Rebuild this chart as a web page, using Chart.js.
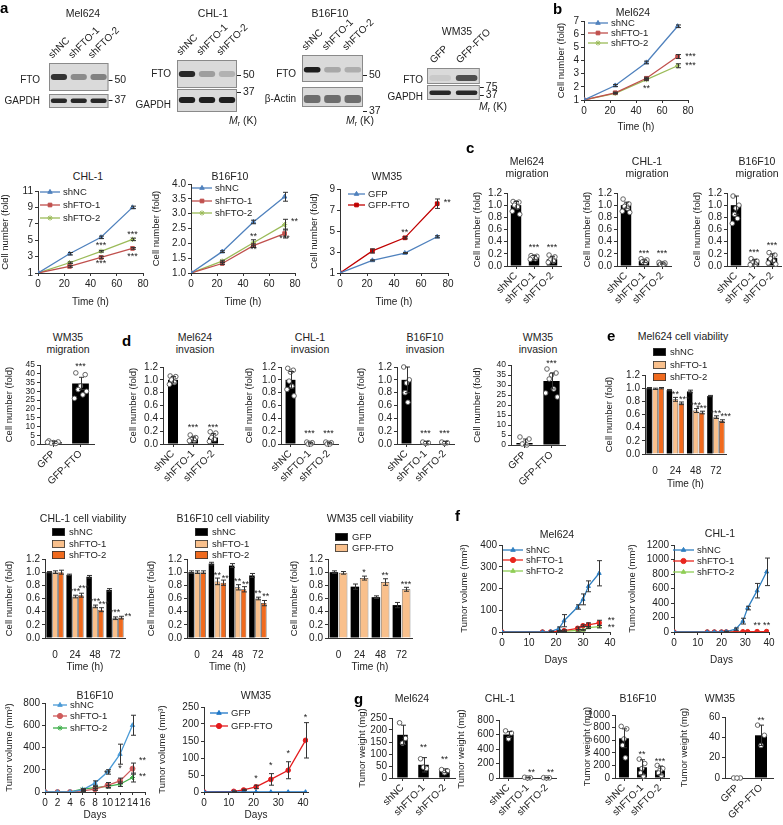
<!DOCTYPE html>
<html>
<head>
<meta charset="utf-8">
<title>FTO figure</title>
<script src="https://cdn.jsdelivr.net/npm/chart.js@4.4.1/dist/chart.umd.min.js"></script>
<style>
  body { margin: 0; background: #fff; }
  #fig { position: relative; width: 783px; height: 825px; overflow: hidden; font-family: "Liberation Sans", Arial, sans-serif; color: #222; }
  #fig canvas { position: absolute; }
  .t { position: absolute; transform: translate(-50%, -50%); font-size: 10.5px; line-height: 12px; text-align: center; white-space: nowrap; }
  .p { position: absolute; font-size: 15px; line-height: 15px; font-weight: bold; color: #000; }
  .t sub { font-size: 7px; vertical-align: -2px; }
</style>
</head>
<body>
<div id="fig"></div>
<script>
// ---------- lanes / categories
const shLanes = ['shNC', 'shFTO-1', 'shFTO-2'];
const gfpLanes = ['GFP', 'GFP-FTO'];
const hours = [0, 24, 48, 72];
const hourLabels = ['0', '24', '48', '72'];

// ---------- panel a: band darkness per lane (0 none .. 1 black)
const blotFtoMel624 = [0.85, 0.4, 0.45];
const blotGapdhMel624 = [0.9, 0.9, 0.9];
const blotFtoCHL1 = [0.9, 0.3, 0.2];
const blotGapdhCHL1 = [0.95, 0.95, 0.95];
const blotFtoB16 = [0.95, 0.25, 0.22];
const blotActinB16 = [0.55, 0.55, 0.55];
const blotFtoWM35 = [0.08, 0.7];
const blotGapdhWM35 = [0.9, 0.9];

// ---------- growth curves (fold)
const gMelNC = [1, 2.1, 3.85, 6.6], gMelNCe = [0, 0.08, 0.1, 0.1];
const gMelF1 = [1, 1.55, 2.65, 4.3], gMelF1e = [0, 0.05, 0.08, 0.15];
const gMelF2 = [1, 1.5, 2.55, 3.6], gMelF2e = [0, 0.05, 0.08, 0.15];
const gChlNC = [1, 3.35, 5.35, 9.0], gChlNCe = [0, 0.15, 0.15, 0.15];
const gChlF1 = [1, 1.8, 2.9, 4.0], gChlF1e = [0, 0.1, 0.15, 0.1];
const gChlF2 = [1, 2.25, 3.65, 5.1], gChlF2e = [0, 0.1, 0.1, 0.15];
const gB16NC = [1, 1.72, 2.72, 3.57], gB16NCe = [0, 0.03, 0.06, 0.15];
const gB16F1 = [1, 1.32, 1.92, 2.33], gB16F1e = [0, 0.03, 0.06, 0.15];
const gB16F2 = [1, 1.4, 2.02, 2.63], gB16F2e = [0, 0.03, 0.1, 0.18];
const gWmGFP = [1, 2.2, 2.9, 4.45], gWmGFPe = [0, 0.05, 0.05, 0.1];
const gWmFTO = [1, 3.1, 4.35, 7.6], gWmFTOe = [0, 0.2, 0.1, 0.45];

// ---------- migration
const migMel = [1.0, 0.14, 0.11], migMelE = [0.06, 0.03, 0.05];
const migMelPts = [[1.06, 1.05, 1.04, 1.0, 0.97, 0.9, 0.85], [0.17, 0.16, 0.15, 0.14, 0.12, 0.11], [0.18, 0.15, 0.12, 0.1, 0.08, 0.06]];
const migChl = [1.0, 0.08, 0.04], migChlE = [0.05, 0.02, 0.01];
const migChlPts = [[1.1, 1.02, 1.0, 0.98, 0.95, 0.9, 0.88], [0.12, 0.1, 0.08, 0.07, 0.06], [0.06, 0.05, 0.04, 0.03, 0.03]];
const migB16 = [1.0, 0.07, 0.13], migB16E = [0.15, 0.04, 0.07];
const migB16Pts = [[1.15, 1.0, 0.95, 0.85, 0.78, 0.7], [0.12, 0.08, 0.06, 0.05, 0.03, 0.02], [0.22, 0.18, 0.15, 0.12, 0.08, 0.05, 0.03]];
const migWm = [1.0, 34.5], migWmE = [0.6, 3.5];
const migWmPts = [[1.8, 1.2, 0.8, 0.5, 0.3, 1.0], [40.5, 39.5, 33, 31, 28, 26, 30]];

// ---------- invasion
const invMel = [1.0, 0.08, 0.1], invMelE = [0.05, 0.03, 0.06];
const invMelPts = [[1.06, 1.05, 1.03, 1.0, 0.96, 0.93], [0.14, 0.1, 0.09, 0.07, 0.06, 0.05], [0.19, 0.17, 0.13, 0.1, 0.07, 0.04]];
const invChl = [1.0, 0.01, 0.01], invChlE = [0.13, 0.01, 0.01];
const invChlPts = [[1.18, 1.15, 1.12, 0.98, 0.9, 0.85, 0.75], [0.03, 0.02, 0.01, 0.0, 0.0], [0.03, 0.02, 0.01, 0.0, 0.0]];
const invB16 = [1.0, 0.02, 0.02], invB16E = [0.2, 0.02, 0.02];
const invB16Pts = [[1.2, 1.0, 0.95, 0.8, 0.65], [0.03, 0.02, 0.01], [0.03, 0.02, 0.01]];
const invWm = [1.0, 32], invWmE = [2.0, 4.0];
const invWmPts = [[4, 3, 1, 0.5, 0], [38, 36, 35, 33, 28, 26, 24]];

// ---------- cell viability
const vMelNC = [1.0, 0.97, 0.95, 0.88], vMelNCe = [0.01, 0.01, 0.02, 0.01];
const vMelF1 = [0.99, 0.83, 0.66, 0.56], vMelF1e = [0.01, 0.03, 0.03, 0.02];
const vMelF2 = [1.0, 0.77, 0.63, 0.5], vMelF2e = [0.01, 0.02, 0.02, 0.02];
const vChlNC = [1.0, 0.96, 0.93, 0.73], vChlNCe = [0.01, 0.01, 0.02, 0.02];
const vChlF1 = [1.0, 0.63, 0.48, 0.3], vChlF1e = [0.02, 0.02, 0.02, 0.02];
const vChlF2 = [1.0, 0.65, 0.43, 0.31], vChlF2e = [0.03, 0.03, 0.03, 0.02];
const vB16NC = [1.0, 1.13, 1.1, 0.95], vB16NCe = [0.02, 0.02, 0.03, 0.03];
const vB16F1 = [1.0, 0.86, 0.77, 0.6], vB16F1e = [0.02, 0.05, 0.04, 0.02];
const vB16F2 = [1.0, 0.84, 0.74, 0.53], vB16F2e = [0.02, 0.04, 0.04, 0.04];
const vWmGFP = [1.0, 0.78, 0.62, 0.5], vWmGFPe = [0.02, 0.04, 0.02, 0.04];
const vWmFTO = [0.99, 0.91, 0.85, 0.74], vWmFTOe = [0.02, 0.03, 0.05, 0.03];

// ---------- tumour volume (mm3)
const dMel = [0, 15, 18, 21, 23, 28, 30, 32, 36];
const tMelNC = [0, 0, 2, 15, 52, 115, 150, 210, 270], tMelNCe = [0, 0, 2, 8, 28, 10, 25, 25, 58];
const tMelF1 = [0, 0, 0, 3, 6, 17, 29, 33, 42], tMelF1e = [0, 0, 0, 2, 4, 6, 4, 9, 12];
const tMelF2 = [0, 0, 0, 2, 3, 8, 9, 20, 25], tMelF2e = [0, 0, 0, 1, 2, 4, 3, 4, 6];
const dChl = [0, 14, 17, 20, 22, 26, 29, 31, 35, 39];
const tChlNC = [0, 0, 0, 0, 5, 40, 150, 330, 570, 830], tChlNCe = [0, 0, 0, 0, 5, 15, 40, 25, 100, 190];
const tChlF1 = [0, 0, 0, 0, 1, 2, 3, 4, 5, 6];
const tChlF2 = [0, 0, 0, 0, 0, 1, 2, 3, 3, 4];
const dB16 = [0, 2, 4, 6, 8, 10, 12, 14];
const tB16NC = [0, 0, 0, 20, 80, 180, 340, 600], tB16NCe = [0, 0, 0, 5, 20, 20, 90, 90];
const tB16F1 = [0, 0, 0, 10, 25, 60, 100, 210], tB16F1e = [0, 0, 0, 5, 10, 25, 25, 50];
const tB16F2 = [0, 0, 0, 25, 40, 50, 70, 130], tB16F2e = [0, 0, 0, 5, 10, 10, 20, 40];
const dWm = [0, 12, 16, 21, 27, 34, 41];
const tWmGFP = [0, 0, 0, 0, 0, 0, 0];
const tWmFTO = [0, 2, 6, 15, 37, 64, 152], tWmFTOe = [0, 1, 2, 5, 17, 25, 52];

// ---------- tumour weight (mg)
const wMel = [180, 55, 30], wMelE = [40, 30, 8];
const wMelPts = [[230, 165, 145], [80, 40, 45], [35, 30, 22]];
const wChl = [600, 5, 3], wChlE = [40, 5, 3];
const wChlPts = [[650, 620, 540], [10, 3, 0], [5, 2, 0]];
const wB16 = [630, 170, 120], wB16E = [150, 120, 70];
const wB16Pts = [[820, 780, 620, 520, 320], [300, 230, 150, 80, 30], [200, 150, 120, 80, 40]];
const wWm = [0, 42], wWmE = [0, 10];
const wWmPts = [[0, 0, 0], [52, 42, 32]];

const C = {
  blue: '#4f81bd', red: '#c0504d', green: '#9bbb59', dred: '#c00000',
  fblue: '#2f7fc1', fred: '#e8261e', fgreen: '#8fce55',
  bblue: '#4a9ad6', bred: '#cf5b5b', bgreen: '#3dae49',
  light: '#f9c08c', orange: '#f06a1e'
};
const FONT = '"Liberation Sans", Arial, sans-serif';
const JIT = [-0.28, 0.28, 0, -0.14, 0.14, -0.36, 0.36];

Chart.defaults.font.family = FONT;
Chart.defaults.font.size = 10;
Chart.defaults.color = '#222';
Chart.defaults.animation = false;
Chart.defaults.responsive = false;
Chart.defaults.events = [];
Chart.defaults.plugins.legend.display = false;
Chart.defaults.plugins.tooltip.enabled = false;

const fig = document.getElementById('fig');

// error bars, replicate dots, stars, small legends, blot strips
const extras = {
  id: 'extras',
  beforeDatasetsDraw(chart, args, o) {
    if (!o.strips) return;
    const ctx = chart.ctx, ca = chart.chartArea, ys = chart.scales.y;
    ctx.save();
    o.strips.forEach(s => {
      const t = ys.getPixelForValue(s[1]), b = ys.getPixelForValue(s[0]);
      ctx.fillStyle = '#dadada';
      ctx.fillRect(ca.left, t, ca.right - ca.left, b - t);
      ctx.strokeStyle = '#8a8a8a';
      ctx.lineWidth = 1;
      ctx.strokeRect(ca.left + 0.5, t + 0.5, ca.right - ca.left - 1, b - t - 1);
    });
    ctx.restore();
  },
  afterDatasetsDraw(chart, args, o) {
    const ctx = chart.ctx, xs = chart.scales.x, ys = chart.scales.y;
    ctx.save();
    chart.data.datasets.forEach((ds, di) => {
      const els = chart.getDatasetMeta(di).data;
      if (ds.pts) {
        ctx.lineWidth = 0.9; ctx.strokeStyle = '#555'; ctx.fillStyle = '#fff';
        els.forEach((el, i) => {
          (ds.pts[i] || []).forEach((v, k) => {
            const x = el.x + JIT[k % JIT.length] * el.width, y = ys.getPixelForValue(v);
            ctx.beginPath(); ctx.arc(x, y, 2.3, 0, Math.PI * 2); ctx.fill(); ctx.stroke();
          });
        });
      }
      if (ds.errs) {
        ctx.lineWidth = 1; ctx.strokeStyle = '#333';
        els.forEach((el, i) => {
          const e = ds.errs[i];
          if (!e) return;
          const d = ds.data[i], v = typeof d === 'object' ? d.y : d;
          const x = Math.round(el.x) + 0.5, c = 2.5;
          const t = ys.getPixelForValue(v + e), b = ys.getPixelForValue(Math.max(v - e, ys.min));
          ctx.beginPath();
          ctx.moveTo(x, t); ctx.lineTo(x, b);
          ctx.moveTo(x - c, t); ctx.lineTo(x + c, t);
          ctx.moveTo(x - c, b); ctx.lineTo(x + c, b);
          ctx.stroke();
        });
      }
    });
    ctx.fillStyle = '#222'; ctx.textAlign = 'center'; ctx.textBaseline = 'middle';
    ctx.font = '9px ' + FONT;
    (o.stars || []).forEach(s => {
      const x = s.ds != null ? chart.getDatasetMeta(s.ds).data[s.i].x : xs.getPixelForValue(s.x);
      ctx.fillText(s.t, x + (s.dx || 0), ys.getPixelForValue(s.y) + (s.dy || 0));
    });
    if (o.legend) {
      const L = o.legend, ox = parseFloat(chart.canvas.style.left), oy = parseFloat(chart.canvas.style.top);
      ctx.font = '9.5px ' + FONT; ctx.textAlign = 'left'; ctx.textBaseline = 'middle';
      chart.data.datasets.forEach((ds, k) => {
        if (L.rows[k] == null) return;
        const x = L.x - ox, y = L.rows[k] - oy;
        if (L.box) {
          ctx.fillStyle = ds.backgroundColor; ctx.fillRect(x, y - 4, 13, 8);
          ctx.strokeStyle = '#333'; ctx.lineWidth = 0.8; ctx.strokeRect(x + 0.4, y - 3.6, 12.2, 7.2);
          ctx.fillStyle = '#222'; ctx.fillText(ds.label, x + 17, y);
        } else {
          ctx.strokeStyle = ds.borderColor; ctx.fillStyle = ds.borderColor; ctx.lineWidth = 1.3;
          ctx.beginPath(); ctx.moveTo(x, y); ctx.lineTo(x + L.len, y); ctx.stroke();
          ctx.lineWidth = 1;
          Chart.helpers.drawPoint(ctx, { pointStyle: ds.pointStyle, radius: 2.6, borderWidth: 1, rotation: 0 }, x + L.len / 2, y);
          ctx.fillStyle = '#222'; ctx.fillText(ds.label, x + L.len + 3, y);
        }
      });
    }
    ctx.restore();
  }
};
Chart.register(extras);

// r = plot area [left, top, right, bottom] on the page, p = room for axes [left, top, right, bottom]
function mk(r, p, cfg) {
  const c = document.createElement('canvas');
  c.width = r[2] - r[0] + p[0] + p[2];
  c.height = r[3] - r[1] + p[1] + p[3];
  c.style.left = (r[0] - p[0]) + 'px';
  c.style.top = (r[1] - p[1]) + 'px';
  fig.appendChild(c);
  const sc = cfg.options.scales, top = sc.x.position === 'top';
  sc.x.afterFit = s => { s.height = top ? p[1] : p[3]; };
  sc.y.afterFit = s => { s.width = p[0]; };
  if (sc.y2) sc.y2.afterFit = s => { s.width = p[2]; };
  cfg.options.layout = { autoPadding: false, padding: { left: 0, top: top ? 0 : p[1], right: sc.y2 ? 0 : p[2], bottom: top ? p[3] : 0 } };
  return new Chart(c, cfg);
}

function yLin(min, max, step, title, dec, fs) {
  const ax = {
    type: 'linear', min, max,
    ticks: { stepSize: step, autoSkip: false, padding: 2, font: { size: fs || 10 } },
    grid: { drawOnChartArea: false, tickLength: 3, color: '#333' },
    border: { color: '#333' },
    title: { display: true, text: title, padding: 0, font: { size: 9.5 } }
  };
  if (dec != null) ax.ticks.callback = v => v.toFixed(dec);
  return ax;
}
function xLin(min, max, step, title) {
  return {
    type: 'linear', min, max,
    afterBuildTicks: s => {
      const ticks = [];
      for (let v = min; v <= max + 1e-9; v += step) ticks.push({ value: v });
      s.ticks = ticks;
    },
    ticks: { stepSize: step, autoSkip: false, padding: 2, maxRotation: 0 },
    grid: { drawOnChartArea: false, tickLength: 3, color: '#333' },
    border: { color: '#333' },
    title: { display: true, text: title, padding: 0, font: { size: 10 } }
  };
}
function xRot() {
  return {
    type: 'category', offset: true,
    ticks: { minRotation: 45, maxRotation: 45, autoSkip: false, padding: 1 },
    grid: { offset: false, drawOnChartArea: false, tickLength: 3, color: '#333' },
    border: { color: '#333' }
  };
}
function xTime() {
  return {
    type: 'category', offset: true,
    ticks: { maxRotation: 0, autoSkip: false, padding: 3 },
    grid: { display: false },
    border: { color: '#333' },
    title: { display: true, text: 'Time (h)', padding: 0, font: { size: 10 } }
  };
}

function lineChart(r, p, xs, series, xo, yo, stars, leg, rad) {
  return mk(r, p, {
    type: 'line',
    data: {
      datasets: series.map(s => ({
        label: s[0], data: xs.map((x, i) => ({ x, y: s[1][i] })), errs: s[2],
        borderColor: s[3], backgroundColor: s[3], pointStyle: s[4],
        pointRadius: rad || 2.6, pointBorderWidth: 1, borderWidth: 1.3, tension: 0
      }))
    },
    options: { scales: { x: xo, y: yo }, plugins: { extras: { stars, legend: leg } } }
  });
}

function barChart(r, p, cats, series, xo, yo, stars, leg) {
  return mk(r, p, {
    type: 'bar',
    data: {
      labels: cats,
      datasets: series.map(s => ({
        label: s.label, data: s.v, errs: s.e, pts: s.pts,
        backgroundColor: s.c, borderColor: '#333', borderWidth: s.bw || 0,
        barPercentage: s.bp, categoryPercentage: s.cp
      }))
    },
    options: { scales: { x: xo, y: yo }, plugins: { extras: { stars, legend: leg } } }
  });
}

function oneBar(r, p, cats, v, e, pts, yo, stars, bp) {
  return barChart(r, p, cats, [{ label: '', v, e, pts, c: '#000', bp, cp: 1 }], xRot(), yo, stars);
}

function viab(r, p, series, stars, legX, rows) {
  return barChart(r, p, hourLabels,
    series.map(s => ({ label: s[0], v: s[1], e: s[2], c: s[3], bw: s[3] === '#000' ? 0 : 0.7, bp: 0.92, cp: 0.88 })),
    xTime(), yLin(0, 1.2, 0.2, 'Cell number (fold)', 1), stars, { x: legX, rows, box: true });
}

// gap = distance between strip edge and the row labels on the left
function blot(r, p, gap, lanes, min, max, strips, bands, leftMap, rightMap) {
  return mk(r, p, {
    type: 'bar',
    data: {
      labels: lanes,
      datasets: bands.map(b => ({
        data: lanes.map(() => b.y), backgroundColor: b.s.map(v => 'rgba(20,20,20,' + v + ')'),
        barPercentage: 0.82, categoryPercentage: 1, borderRadius: 3, borderSkipped: false, grouped: false
      }))
    },
    options: {
      scales: {
        x: { position: 'top', offset: true, ticks: { minRotation: 45, maxRotation: 45, autoSkip: false, padding: 2 },
             grid: { display: false, drawTicks: false }, border: { display: false } },
        y: {
          min, max,
          afterBuildTicks: s => { s.ticks = Object.keys(leftMap).map(v => ({ value: +v })); },
          ticks: { callback: v => leftMap[v], padding: 0, font: { size: 10 } },
          grid: { display: false, drawTicks: true, tickLength: gap }, border: { display: false }
        },
        y2: {
          position: 'right', min, max,
          afterBuildTicks: s => { s.ticks = Object.keys(rightMap).map(v => ({ value: +v })); },
          ticks: { callback: v => rightMap[v], padding: 2, font: { size: 10.5 } },
          grid: { drawOnChartArea: false, tickLength: 4, color: '#222' }, border: { display: false }
        }
      },
      plugins: { extras: { strips } }
    }
  });
}

// ---------- panel a
blot([49, 63, 110, 108], [49, 62, 22, 12], 9, shLanes, 0, 45, [[17, 45], [0, 14]],
  [{ y: [28, 34], s: blotFtoMel624 }, { y: [5, 9.5], s: blotGapdhMel624 }], { 28: 'FTO', 7: 'GAPDH' }, { 28: '50', 7.5: '37' });
blot([177, 60, 237, 112], [44, 59, 24, 12], 6, shLanes, 0, 52, [[24, 52], [0, 23]],
  [{ y: [35, 41], s: blotFtoCHL1 }, { y: [9, 15], s: blotGapdhCHL1 }], { 38: 'FTO', 7: 'GAPDH' }, { 37: '50', 20: '37' });
blot([302, 55, 363, 113], [40, 54, 24, 12], 6, shLanes, -6, 52, [[25, 52], [0, 20]],
  [{ y: [34.5, 40], s: blotFtoB16 }, { y: [4, 12], s: blotActinB16 }], { 33: 'FTO', 8: 'β-Actin' }, { 32: '50', '-4': '37' });
blot([427, 68, 480, 100], [42, 48, 26, 12], 4, gfpLanes, 0, 32, [[16, 32], [0, 15]],
  [{ y: [19, 25], s: blotFtoWM35 }, { y: [5, 9.5], s: blotGapdhWM35 }], { 20: 'FTO', 3: 'GAPDH' }, { 13: '75', 5: '37' });

// ---------- panel b and growth curves
lineChart([584, 21, 688, 100], [28, 8, 10, 33], hours,
  [['shNC', gMelNC, gMelNCe, C.blue, 'triangle'], ['shFTO-1', gMelF1, gMelF1e, C.red, 'rect'], ['shFTO-2', gMelF2, gMelF2e, C.green, 'star']],
  xLin(0, 80, 20, 'Time (h)'), yLin(1, 7, 1, 'Cell number (fold)'),
  [{ x: 72, y: 4.3, t: '***', dx: 13 }, { x: 72, y: 3.6, t: '***', dx: 13 }, { x: 48, y: 2.55, t: '**', dy: 9 }],
  { x: 588, rows: [23, 33, 43], len: 20 });
lineChart([38, 191, 143, 273], [38, 8, 10, 35], hours,
  [['shNC', gChlNC, gChlNCe, C.blue, 'triangle'], ['shFTO-1', gChlF1, gChlF1e, C.red, 'rect'], ['shFTO-2', gChlF2, gChlF2e, C.green, 'star']],
  xLin(0, 80, 20, 'Time (h)'), yLin(1, 11, 2, 'Cell number (fold)'),
  [{ x: 48, y: 4.4, t: '***' }, { x: 48, y: 2.2, t: '***' }, { x: 72, y: 5.7, t: '***' }, { x: 72, y: 3.0, t: '***' }],
  { x: 40, rows: [192, 205, 218], len: 20 });
lineChart([191, 184, 295, 273], [40, 8, 10, 35], hours,
  [['shNC', gB16NC, gB16NCe, C.blue, 'triangle'], ['shFTO-1', gB16F1, gB16F1e, C.red, 'rect'], ['shFTO-2', gB16F2, gB16F2e, C.green, 'star']],
  xLin(0, 80, 20, 'Time (h)'), yLin(1, 4, 0.5, 'Cell number (fold)'),
  [{ x: 48, y: 2.22, t: '**' }, { x: 48, y: 1.78, t: '**' }, { x: 72, y: 2.75, t: '**', dx: 10 }, { x: 72, y: 2.17, t: '***' }],
  { x: 192, rows: [188, 201, 213], len: 20 });
lineChart([340, 189, 448, 273], [31, 8, 10, 35], hours,
  [['GFP', gWmGFP, gWmGFPe, C.blue, 'triangle'], ['GFP-FTO', gWmFTO, gWmFTOe, C.dred, 'rect']],
  xLin(0, 80, 20, 'Time (h)'), yLin(1, 9, 2, 'Cell number (fold)'),
  [{ x: 48, y: 4.9, t: '**' }, { x: 72, y: 7.76, t: '**', dx: 10 }],
  { x: 348, rows: [194, 205], len: 17 });

// ---------- panel c: migration
const yFold = () => yLin(0, 1.2, 0.2, 'Cell number (fold)', 1);
oneBar([507, 193, 561, 266], [35, 8, 6, 46], shLanes, migMel, migMelE, migMelPts, yFold(),
  [{ x: 1, y: 0.3, t: '***' }, { x: 2, y: 0.3, t: '***' }], 0.58);
oneBar([617, 193, 671, 266], [35, 8, 6, 46], shLanes, migChl, migChlE, migChlPts, yFold(),
  [{ x: 1, y: 0.2, t: '***' }, { x: 2, y: 0.2, t: '***' }], 0.58);
oneBar([727, 193, 781, 266], [35, 8, 2, 46], shLanes, migB16, migB16E, migB16Pts, yFold(),
  [{ x: 1, y: 0.22, t: '***' }, { x: 2, y: 0.33, t: '***' }], 0.58);
oneBar([40, 365, 94, 444], [36, 8, 6, 40], gfpLanes, migWm, migWmE, migWmPts,
  yLin(0, 45, 5, 'Cell number (fold)', null, 8.5), [{ x: 1, y: 44, t: '***' }], 0.62);

// ---------- panel d: invasion
oneBar([163, 367, 223, 444], [35, 8, 6, 46], shLanes, invMel, invMelE, invMelPts, yFold(),
  [{ x: 1, y: 0.25, t: '***' }, { x: 2, y: 0.25, t: '***' }], 0.5);
oneBar([281, 367, 338, 444], [37, 8, 6, 46], shLanes, invChl, invChlE, invChlPts, yFold(),
  [{ x: 1, y: 0.17, t: '***' }, { x: 2, y: 0.17, t: '***' }], 0.52);
oneBar([397, 367, 454, 444], [41, 8, 6, 46], shLanes, invB16, invB16E, invB16Pts, yFold(),
  [{ x: 1, y: 0.17, t: '***' }, { x: 2, y: 0.17, t: '***' }], 0.52);
oneBar([511, 365, 565, 445], [39, 8, 6, 40], gfpLanes, invWm, invWmE, invWmPts,
  yLin(0, 40, 5, 'Cell number (fold)', null, 8.5), [{ x: 1, y: 40.5, t: '***' }], 0.6);

// ---------- panel e and viability row
viab([645, 375, 726, 454], [41, 32, 6, 36],
  [['shNC', vMelNC, vMelNCe, '#000'], ['shFTO-1', vMelF1, vMelF1e, C.light], ['shFTO-2', vMelF2, vMelF2e, C.orange]],
  [{ ds: 1, i: 1, y: 0.9, t: '**' }, { ds: 2, i: 1, y: 0.83, t: '***', dx: 3 }, { ds: 1, i: 2, y: 0.73, t: '***' },
   { ds: 2, i: 2, y: 0.69, t: '***' }, { ds: 1, i: 3, y: 0.62, t: '***' }, { ds: 2, i: 3, y: 0.57, t: '***', dx: 4 }],
  653, [352, 365, 377]);
viab([45, 559, 125, 638], [41, 36, 6, 35],
  [['shNC', vChlNC, vChlNCe, '#000'], ['shFTO-1', vChlF1, vChlF1e, C.light], ['shFTO-2', vChlF2, vChlF2e, C.orange]],
  [{ ds: 1, i: 1, y: 0.71, t: '***' }, { ds: 2, i: 1, y: 0.75, t: '***', dx: 3 }, { ds: 1, i: 2, y: 0.56, t: '***' },
   { ds: 2, i: 2, y: 0.51, t: '***', dx: 3 }, { ds: 1, i: 3, y: 0.38, t: '***' }, { ds: 2, i: 3, y: 0.33, t: '***', dx: 9 }],
  52, [532, 544, 555]);
viab([187, 559, 268, 638], [41, 36, 6, 35],
  [['shNC', vB16NC, vB16NCe, '#000'], ['shFTO-1', vB16F1, vB16F1e, C.light], ['shFTO-2', vB16F2, vB16F2e, C.orange]],
  [{ ds: 1, i: 1, y: 0.95, t: '**' }, { ds: 2, i: 1, y: 0.91, t: '**', dx: 2 }, { ds: 1, i: 2, y: 0.86, t: '**' },
   { ds: 2, i: 2, y: 0.82, t: '**', dx: 2 }, { ds: 1, i: 3, y: 0.67, t: '**' }, { ds: 2, i: 3, y: 0.63, t: '**', dx: 2 }],
  195, [532, 544, 555]);
viab([328, 559, 412, 638], [39, 36, 6, 35],
  [['GFP', vWmGFP, vWmGFPe, '#000'], ['GFP-FTO', vWmFTO, vWmFTOe, C.light]],
  [{ ds: 1, i: 1, y: 1.0, t: '*' }, { ds: 1, i: 2, y: 0.95, t: '**' }, { ds: 1, i: 3, y: 0.82, t: '***' }],
  335, [537, 548]);

// ---------- panel f: tumour volume
lineChart([502, 545, 610, 632], [43, 8, 10, 34], dMel,
  [['shNC', tMelNC, tMelNCe, C.fblue, 'triangle'], ['shFTO-1', tMelF1, tMelF1e, C.fred, 'circle'], ['shFTO-2', tMelF2, tMelF2e, C.fgreen, 'triangle']],
  xLin(0, 40, 10, 'Days'), yLin(0, 400, 100, 'Tumor volume (mm³)', 0),
  [{ x: 36, y: 52, t: '**', dx: 12 }, { x: 36, y: 20, t: '**', dx: 12 }],
  { x: 503, rows: [550, 560, 571], len: 20 }, 2.3);
lineChart([674, 545, 769, 632], [47, 8, 10, 34], dChl,
  [['shNC', tChlNC, tChlNCe, C.fblue, 'triangle'], ['shFTO-1', tChlF1, null, C.fred, 'circle'], ['shFTO-2', tChlF2, null, C.fgreen, 'triangle']],
  xLin(0, 40, 10, 'Days'), yLin(0, 1200, 200, 'Tumor volume (mm³)', 0),
  [{ x: 35, y: 85, t: '**' }, { x: 39, y: 85, t: '**' }],
  { x: 673, rows: [550, 561, 572], len: 21 }, 2.3);
lineChart([45, 703, 145, 792], [41, 8, 8, 29], dB16,
  [['shNC', tB16NC, tB16NCe, C.bblue, 'triangle'], ['shFTO-1', tB16F1, tB16F1e, C.bred, 'circle'], ['shFTO-2', tB16F2, tB16F2e, C.bgreen, 'star']],
  xLin(0, 16, 2, 'Days'), yLin(0, 800, 200, 'Tumor volume (mm³)', 0),
  [{ x: 10, y: 170, t: '**' }, { x: 12, y: 215, t: '*' }, { x: 14, y: 280, t: '**', dx: 10 }, { x: 14, y: 140, t: '**', dx: 10 }],
  { x: 53, rows: [705, 716, 728], len: 14 }, 2.5);
lineChart([204, 707, 308, 792], [47, 8, 6, 29], dWm,
  [['GFP', tWmGFP, null, '#1f78c8', 'triangle'], ['GFP-FTO', tWmFTO, tWmFTOe, '#e41a1c', 'circle']],
  xLin(0, 42, 10, 'Days'), yLin(0, 250, 50, 'Tumor volume (mm³)', 0),
  [{ x: 21, y: 40, t: '*' }, { x: 27, y: 78, t: '*' }, { x: 34, y: 112, t: '*' }, { x: 41, y: 218, t: '*' }],
  { x: 210, rows: [713, 726], len: 18 }, 2.3);

// ---------- panel g: tumour weight
oneBar([392, 718, 455, 778], [35, 12, 4, 45], shLanes, wMel, wMelE, wMelPts,
  yLin(0, 250, 50, 'Tumor weight (mg)', 0), [{ x: 1, y: 125, t: '**' }, { x: 2, y: 75, t: '**' }], 0.5);
oneBar([499, 720, 556, 778], [43, 12, 4, 45], shLanes, wChl, wChlE, wChlPts,
  yLin(0, 800, 200, 'Tumor weight (mg)', 0), [{ x: 1, y: 70, t: '**', dx: 4 }, { x: 2, y: 70, t: '**', dx: 4 }], 0.55);
oneBar([615, 715, 669, 778], [33, 12, 4, 45], shLanes, wB16, wB16E, wB16Pts,
  yLin(0, 1000, 200, 'Tumor weight (mg)', 0), [{ x: 1, y: 365, t: '**' }, { x: 2, y: 260, t: '***' }], 0.55);
oneBar([725, 717, 773, 778], [46, 12, 6, 45], gfpLanes, wWm, wWmE, wWmPts,
  yLin(0, 60, 20, 'Tumor weight (mg)', 0), [{ x: 1, y: 57, t: '**' }], 0.5);

// ---------- titles and panel letters
const titles = [
  ['Mel624', 83, 13], ['CHL-1', 213, 13], ['B16F10', 330, 13], ['WM35', 457, 31],
  ['<i>M</i><sub>r</sub> (K)', 243, 122], ['<i>M</i><sub>r</sub> (K)', 360, 122], ['<i>M</i><sub>r</sub> (K)', 493, 108],
  ['Mel624', 633, 12],
  ['CHL-1', 88, 176], ['B16F10', 230, 176], ['WM35', 387, 176],
  ['Mel624<br>migration', 527, 167], ['CHL-1<br>migration', 647, 167], ['B16F10<br>migration', 757, 167],
  ['WM35<br>migration', 68, 343], ['Mel624<br>invasion', 195, 343], ['CHL-1<br>invasion', 310, 343],
  ['B16F10<br>invasion', 425, 343], ['WM35<br>invasion', 538, 343],
  ['Mel624 cell viability', 683, 336],
  ['CHL-1 cell viability', 83, 518], ['B16F10 cell viability', 223, 518], ['WM35 cell viability', 370, 518],
  ['Mel624', 557, 534], ['CHL-1', 720, 533], ['B16F10', 95, 695], ['WM35', 256, 695],
  ['Mel624', 412, 698], ['CHL-1', 500, 698], ['B16F10', 638, 698], ['WM35', 720, 698]
];
titles.forEach(([txt, x, y]) => {
  const d = document.createElement('div');
  d.className = 't'; d.innerHTML = txt;
  d.style.left = x + 'px'; d.style.top = y + 'px';
  fig.appendChild(d);
});
const letters = [['a', 0, 0], ['b', 553, 1], ['c', 466, 140], ['d', 122, 333], ['e', 607, 328], ['f', 455, 508], ['g', 354, 691]];
letters.forEach(([txt, x, y]) => {
  const d = document.createElement('div');
  d.className = 'p'; d.textContent = txt;
  d.style.left = x + 'px'; d.style.top = y + 'px';
  fig.appendChild(d);
});
</script>
</body>
</html>
